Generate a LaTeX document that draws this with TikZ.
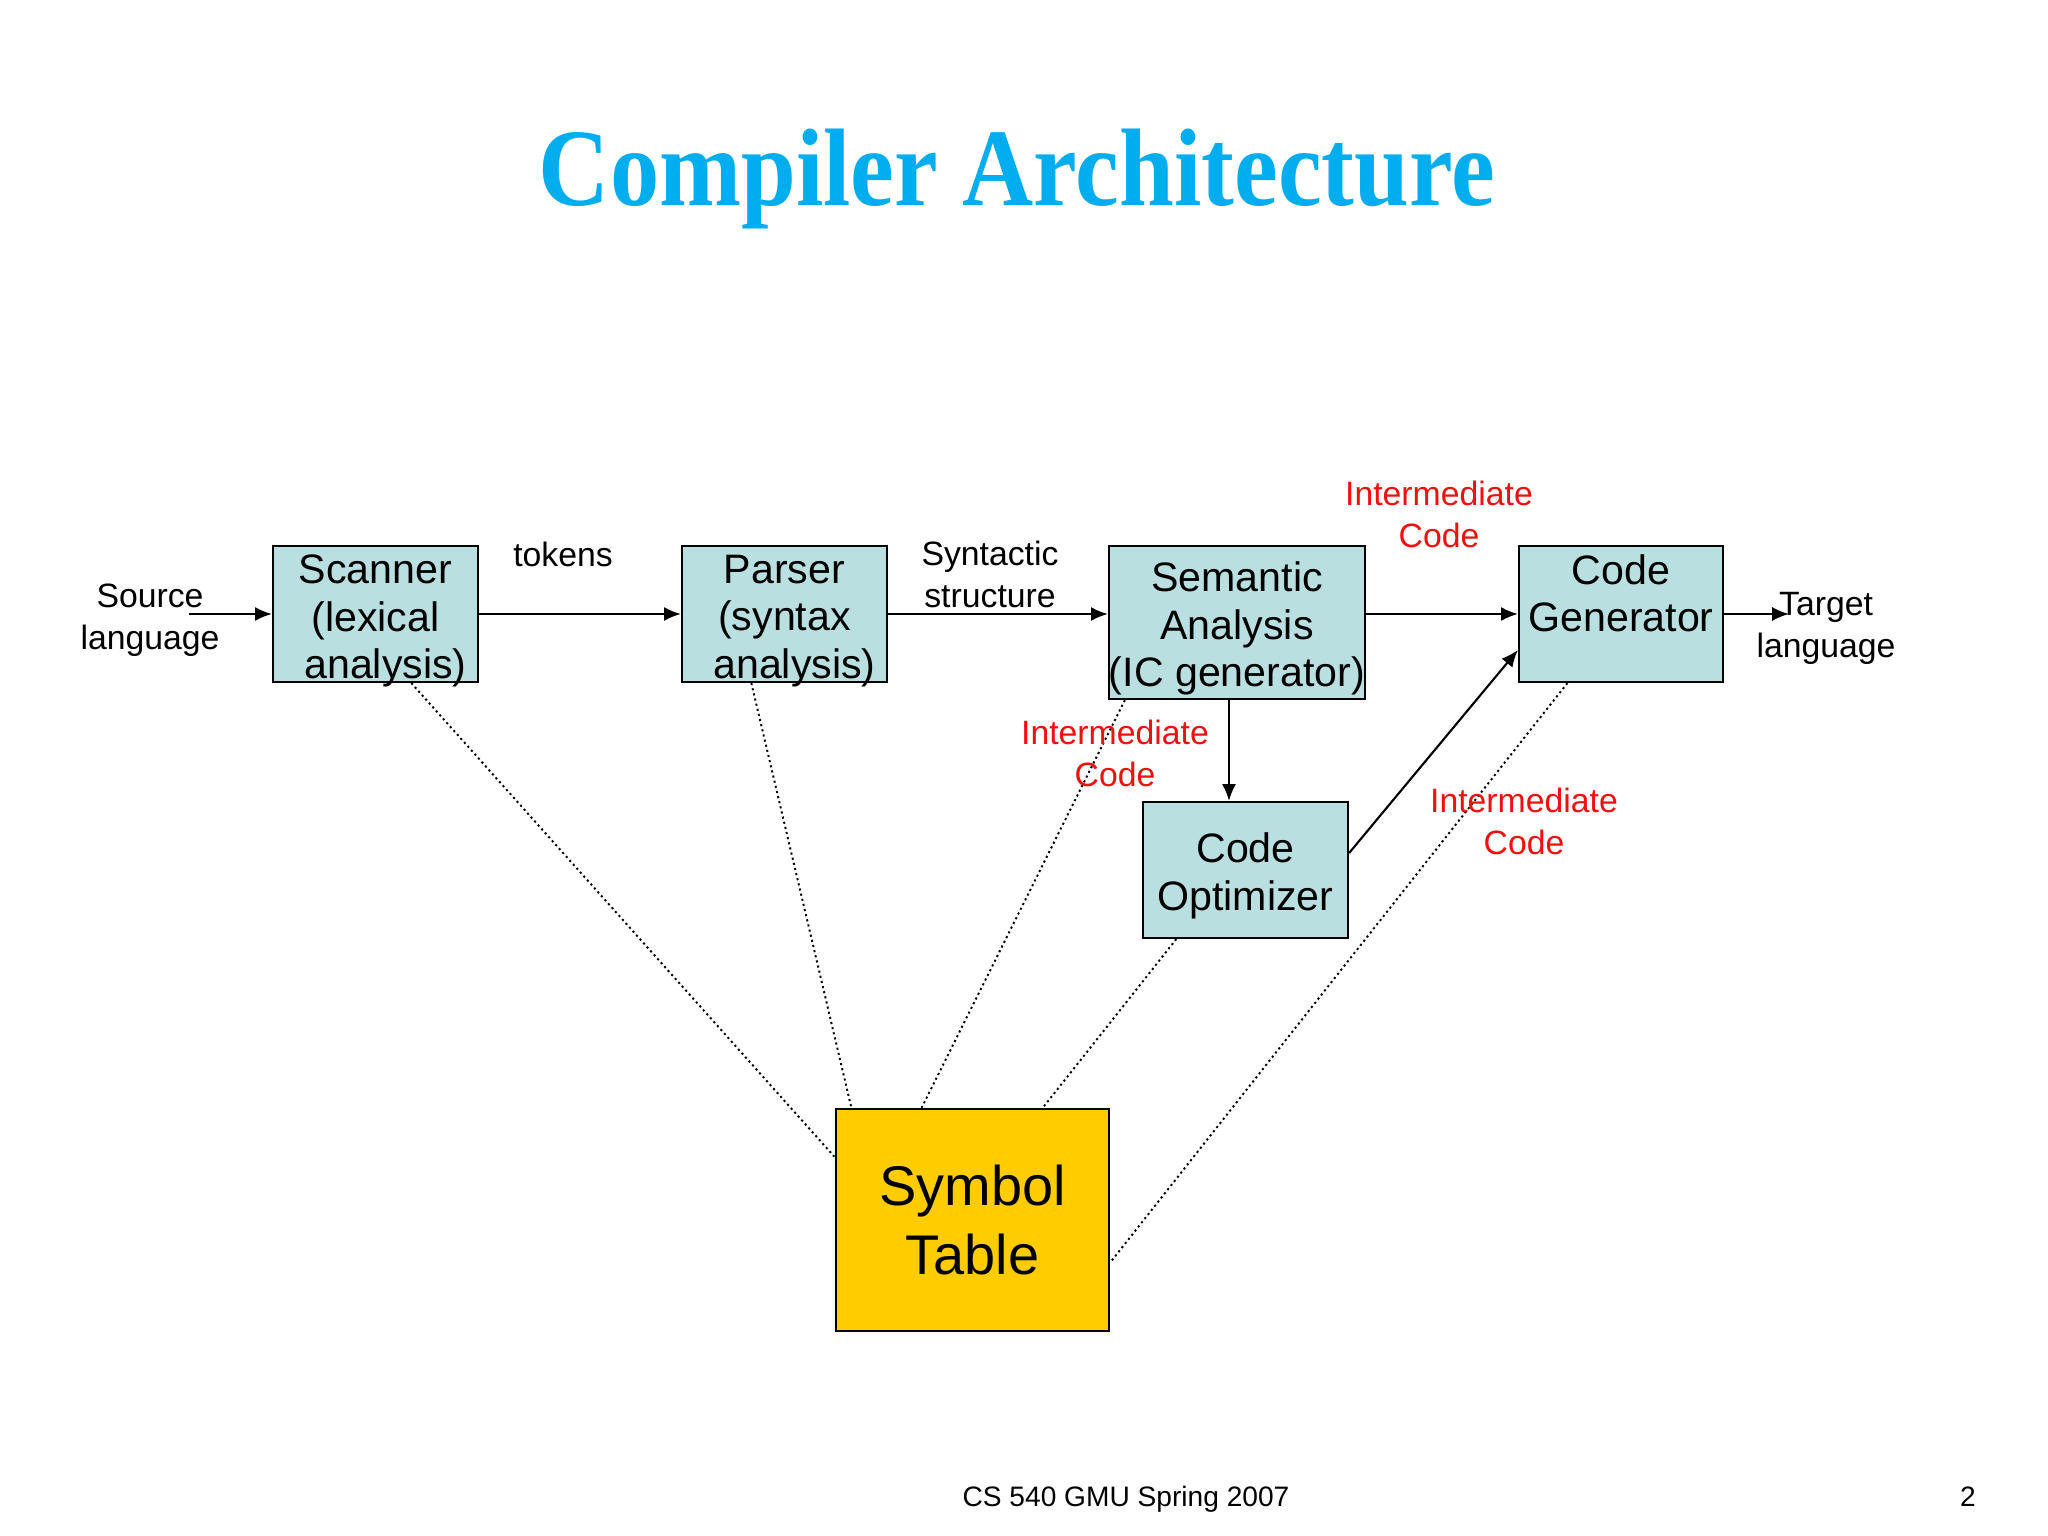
\documentclass[tikz,border=0pt]{standalone}
\usepackage{fontspec}
\setmainfont{Liberation Sans}
\newfontfamily\titlefont{Liberation Serif}
\usetikzlibrary{arrows.meta,calc}
\definecolor{boxfill}{HTML}{BADFE1}
\definecolor{symfill}{HTML}{FFCC00}
\definecolor{titlecol}{HTML}{00AEEF}
\definecolor{redlab}{HTML}{F01010}
\begin{document}
\begin{tikzpicture}[x=0.01cm,y=-0.01cm,
  stage/.style={draw=black, line width=0.6pt, fill=boxfill, inner sep=0pt,
    minimum width=2.05cm, minimum height=1.36cm},
  boxtext/.style={align=center, inner sep=0pt, font=\fontsize{11.7}{13.6}\selectfont},
  symbox/.style={draw=black, line width=0.6pt, fill=symfill, inner sep=0pt, align=center,
    font=\fontsize{15.9}{19.6}\selectfont, minimum width=2.73cm, minimum height=2.22cm},
  lab/.style={align=center, inner sep=0pt, font=\fontsize{9.6}{11.9}\selectfont},
  redl/.style={lab, text=redlab},
  arr/.style={line width=0.6pt, -{Latex[length=4.8pt,width=4pt]}},
  link/.style={line width=0.55pt, dash pattern=on 0.6pt off 0.9pt}
]
\useasboundingbox (0,0) rectangle (2048,1536);
% title
\node[anchor=base, inner sep=0pt, text=titlecol, font=\titlefont\bfseries\fontsize{28}{32}\selectfont] (title) at (1017,205) {\scalebox{1}[1.12]{Compiler Architecture}};
% boxes
\node[stage, label={[boxtext,yshift=-0.07cm]center:{Scanner\\(lexical\\\hspace*{0.2cm}analysis)}}] (scan) at (375.5,614) {};
\node[stage, label={[boxtext,yshift=-0.07cm]center:{Parser\\(syntax\\\hspace*{0.2cm}analysis)}}] (pars) at (784.5,614) {};
\node[stage, minimum width=2.56cm, minimum height=1.53cm, label={[boxtext,yshift=-0.06cm]center:{Semantic\\Analysis\\(IC generator)}}] (sem) at (1237,622.5) {};
\node[stage, minimum width=2.04cm, label={[boxtext,yshift=-0.03cm]center:{Code\\Generator\\\mbox{}}}] (gen) at (1621,614) {};
\node[stage, label={[boxtext,yshift=-0.06cm]center:{Code\\Optimizer}}] (opt) at (1245.5,870) {};
\node[symbox] (sym) at (972.5,1220) {Symbol\\Table};
% dotted links to symbol table
\draw[link] ($(scan.south west)!0.673!(scan.south east)$) -- ($(sym.north west)!0.22!(sym.south west)$);
\draw[link] ($(pars.south west)!0.34!(pars.south east)$) -- ($(sym.north west)!0.06!(sym.north east)$);
\draw[link] ($(sem.south west)!0.066!(sem.south east)$) -- ($(sym.north west)!0.315!(sym.north east)$);
\draw[link] ($(opt.south west)!0.166!(opt.south east)$) -- ($(sym.north west)!0.755!(sym.north east)$);
\draw[link] ($(gen.south west)!0.24!(gen.south east)$) -- ($(sym.north east)!0.69!(sym.south east)$);
% arrows
\coordinate (src) at (189,614);
\coordinate (tgt) at (1789,614);
\draw[arr] (src) -- (scan.west);
\draw[arr] (scan.east) -- (pars.west);
\draw[arr] (pars.east) -- (pars.east -| sem.west);
\draw[arr] (sem.east |- gen.west) -- (gen.west);
\draw[arr] (gen.east) -- (tgt);
\coordinate (sd) at ($(sem.south)+(-8,0)$);
\draw[arr] (sd) -- (sd |- opt.north);
\draw[arr] ($(opt.east)+(0,-17)$) -- ($(gen.west)+(0,36)$);
% labels
\node[lab] (srcl) at (150,620) {Source\\language};
\node[lab] (tok) at (563,554) {tokens};
\node[lab] (syn) at (990,574) {Syntactic\\structure};
\node[lab] (tgtl) at (1826,628) {Target\\language};
\node[redl] (ic1) at (1439,514) {Intermediate\\Code};
\node[redl] (ic2) at (1115,753) {Intermediate\\Code};
\node[redl] (ic3) at (1524,821) {Intermediate\\Code};
% footer
\node[anchor=base, inner sep=0pt, font=\fontsize{8}{10}\selectfont] (foot) at (1126,1506) {CS 540 GMU Spring 2007};
\node[anchor=base, inner sep=0pt, font=\fontsize{8}{10}\selectfont] (pg) at (1968,1506) {2};
\end{tikzpicture}
\end{document}
